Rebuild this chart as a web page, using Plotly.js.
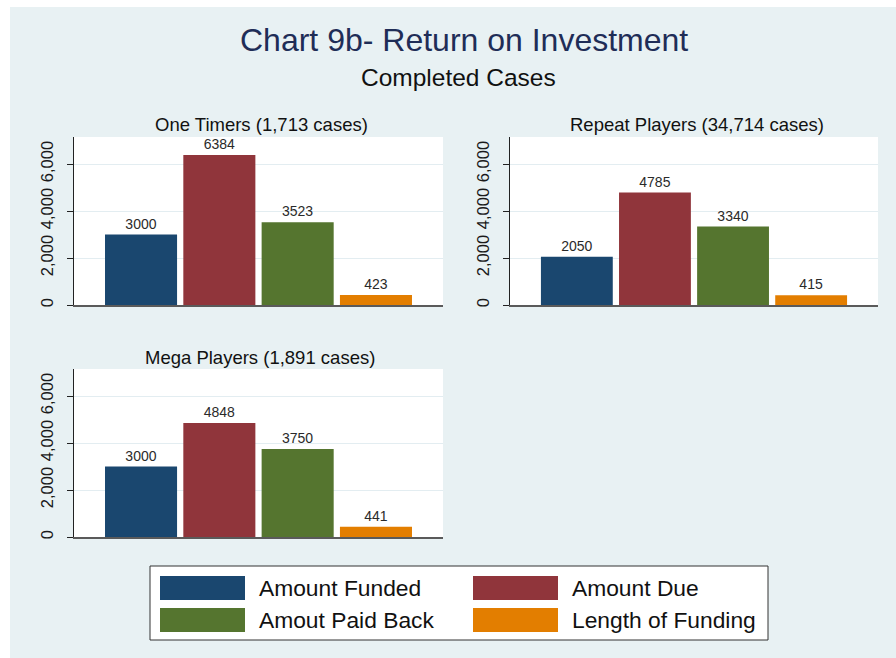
<!DOCTYPE html>
<html>
<head>
<meta charset="utf-8">
<script src="https://cdn.plot.ly/plotly-3.0.1.min.js"></script>
<style>
  html, body { margin: 0; padding: 0; background: #ffffff; width: 896px; height: 658px; overflow: hidden; }
  #chart { position: absolute; left: 10px; top: 7px; width: 886px; height: 651px; }
</style>
</head>
<body>
<div id="chart"></div>
<script>
// ---- Data ----
const categories = ["Amount Funded", "Amount Due", "Amout Paid Back", "Length of Funding"];
const panelTitles = ["One Timers (1,713 cases)", "Repeat Players (34,714 cases)", "Mega Players (1,891 cases)"];
const oneTimers = [3000, 6384, 3523, 423];
const repeatPlayers = [2050, 4785, 3340, 415];
const megaPlayers = [3000, 4848, 3750, 441];
const yTickValues = [0, 2000, 4000, 6000];

// ---- Styling ----
const colors = ["#1A476F", "#90353B", "#55752F", "#E37E00"];
const FONT = '"Liberation Sans", Arial, Helvetica, sans-serif';
const BG = "#E8F1F3";
const W = 886, H = 651, OX = 10, OY = 7;
const px = v => (v - OX) / W;
const py = v => 1 - (v - OY) / H;

const panelValues = [oneTimers, repeatPlayers, megaPlayers];
const axisIds = [["x", "y"], ["x2", "y2"], ["x3", "y3"]];

const traces = [];
panelValues.forEach((vals, p) => {
  categories.forEach((cat, s) => {
    traces.push({
      type: "bar",
      name: cat,
      x: [s],
      y: [vals[s]],
      width: 0.92,
      text: [String(vals[s])],
      textposition: "outside",
      cliponaxis: false,
      textfont: { family: FONT, size: 14, color: "#2a2a2a" },
      marker: { color: colors[s], line: { width: 0 } },
      xaxis: axisIds[p][0],
      yaxis: axisIds[p][1],
      showlegend: false,
      hoverinfo: "x+y"
    });
  });
});

const xr = [-0.856, 3.856];
const yr = [0, 7150];
function xAxis(domain) {
  return {
    domain: domain, range: xr, showticklabels: false, ticks: "",
    showgrid: false, zeroline: false, showline: true,
    linecolor: "#5a5a5a", linewidth: 1.5, fixedrange: true
  };
}
function yAxis(domain, anchor) {
  return {
    domain: domain, range: yr, tickvals: yTickValues, tickformat: ",d",
    tickangle: -90, ticks: "outside", ticklen: 6, tickcolor: "#222222", tickwidth: 1,
    tickfont: { family: FONT, size: 16.5, color: "#1a1a1a" },
    ticklabelstandoff: 7,
    showgrid: true, gridcolor: "#E3EDF1", gridwidth: 1,
    zeroline: false, showline: true, linecolor: "#222222", linewidth: 1.5,
    anchor: anchor, fixedrange: true, automargin: false
  };
}

const shapes = [];
const annotations = [];

// Titles
annotations.push({ text: "Chart 9b- Return on Investment", x: px(463.5), y: py(40), xref: "paper", yref: "paper",
  xanchor: "center", yanchor: "middle", showarrow: false, font: { family: FONT, size: 32, color: "#1F2D57" } });
annotations.push({ text: "Completed Cases", x: px(458), y: py(77), xref: "paper", yref: "paper",
  xanchor: "center", yanchor: "middle", showarrow: false, font: { family: FONT, size: 24.5, color: "#111111" } });

// Panel titles
const panelTitlePos = [[261, 124], [697, 124], [260, 357]];
panelTitles.forEach((t, i) => {
  annotations.push({ text: t, x: px(panelTitlePos[i][0]), y: py(panelTitlePos[i][1]), xref: "paper", yref: "paper",
    xanchor: "center", yanchor: "middle", showarrow: false, font: { family: FONT, size: 18.5, color: "#111111" } });
});

// Custom legend
shapes.push({ type: "rect", xref: "paper", yref: "paper", x0: px(150), x1: px(768), y0: py(566), y1: py(640),
  fillcolor: "#ffffff", line: { color: "#333333", width: 1 }, layer: "below" });
const legPos = [[160, 576, 257], [473, 576, 570], [160, 608, 257], [473, 608, 570]];
categories.forEach((cat, i) => {
  const [sx, sy, tx] = legPos[i];
  shapes.push({ type: "rect", xref: "paper", yref: "paper", x0: px(sx), x1: px(sx + 85), y0: py(sy), y1: py(sy + 24),
    fillcolor: colors[i], line: { width: 0 } });
  annotations.push({ text: cat, x: px(tx), y: py(sy + 12), xref: "paper", yref: "paper",
    xanchor: "left", yanchor: "middle", showarrow: false, font: { family: FONT, size: 22.8, color: "#111111" } });
});

const layout = {
  width: W, height: H,
  paper_bgcolor: BG, plot_bgcolor: "#ffffff",
  margin: { l: 0, r: 0, t: 0, b: 0, pad: 0 },
  showlegend: false,
  barmode: "overlay",
  font: { family: FONT },
  xaxis: Object.assign(xAxis([px(74), px(443)]), { anchor: "y" }),
  yaxis: yAxis([py(305), py(137)], "x"),
  xaxis2: Object.assign(xAxis([px(510), px(878)]), { anchor: "y2" }),
  yaxis2: yAxis([py(305), py(137)], "x2"),
  xaxis3: Object.assign(xAxis([px(74), px(443)]), { anchor: "y3" }),
  yaxis3: yAxis([py(537), py(369)], "x3"),
  shapes: shapes,
  annotations: annotations
};

Plotly.newPlot("chart", traces, layout, { displayModeBar: false, staticPlot: true });
</script>
</body>
</html>
